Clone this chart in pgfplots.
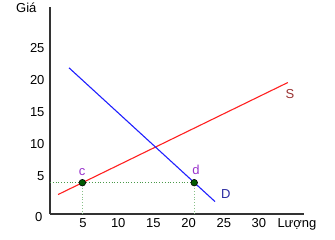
\documentclass[border=0pt]{standalone}
\usepackage{fontspec}
\setmainfont{Liberation Sans}
\usepackage{pgfplots}
\pgfplotsset{compat=1.18}
\definecolor{sred}{HTML}{FF2020}
\definecolor{dblue}{HTML}{2020FF}
\definecolor{slab}{HTML}{993333}
\definecolor{dlab}{HTML}{2A2AA0}
\definecolor{plab}{HTML}{9933CC}
\definecolor{ptfill}{HTML}{005A00}
\definecolor{dotg}{HTML}{4A9A4A}
\definecolor{dotl}{HTML}{88C088}
\begin{document}
\begin{tikzpicture}
\useasboundingbox (0,0) rectangle (335pt,240pt);
\begin{axis}[
  at={(50pt,26pt)}, anchor=south west,
  scale only axis, width=254pt, height=207pt,
  xmin=0.3, xmax=36.4, ymin=-0.94, ymax=31.4,
  axis lines=left,
  axis line style={-, line width=1.3pt, color=black!80},
  major tick length=0pt,
  xtick={5,10,15,20,25,30},
  ytick={5,10,15,20,25},
  extra x ticks={35.4},
  extra x tick labels={Lượng},
  /pgf/number format/assume math mode=true,
  tick label style={font=\fontsize{13}{15}\selectfont},
  xticklabel style={text height=9.5pt, text depth=3pt, yshift=0pt},
  yticklabel style={xshift=-2pt},
  clip=false,
]
\addplot[dotg, dotted, line width=0.8pt] coordinates {(0.3,3.95) (20.8,3.95)};
\addplot[dotl, dotted, line width=0.8pt] coordinates {(4.9,3.95) (4.9,-0.94)};
\addplot[dotl, dotted, line width=0.8pt] coordinates {(20.8,3.95) (20.8,-0.94)};
\addplot[sred, line width=1.1pt] coordinates {(1.45,2.1) (34.1,19.6)};
\addplot[dblue, line width=1.1pt] coordinates {(3.0,21.9) (23.75,1.0)};
\addplot[only marks, mark=*, mark size=3.3pt, mark options={fill=ptfill, draw=black, line width=0.6pt}] coordinates {(4.9,3.95) (20.8,3.95)};
\node[slab, font=\fontsize{13}{15}\selectfont] at (axis cs:34.4,17.8) {S};
\node[dlab, font=\fontsize{13}{15}\selectfont] at (axis cs:25.3,2.2) {D};
\node[plab, font=\fontsize{13}{15}\selectfont] at (axis cs:4.86,5.6) {c};
\node[plab, font=\fontsize{13}{15}\selectfont] at (axis cs:21.05,5.9) {d};
\node[anchor=east, font=\fontsize{13}{15}\selectfont] at ([xshift=-4pt,yshift=-3.5pt]axis cs:0.3,-0.94) {0};
\node[anchor=east, font=\fontsize{13}{15}\selectfont] at ([xshift=-10pt,yshift=-1pt]rel axis cs:0,1) {Giá};
\end{axis}
\end{tikzpicture}
\end{document}
